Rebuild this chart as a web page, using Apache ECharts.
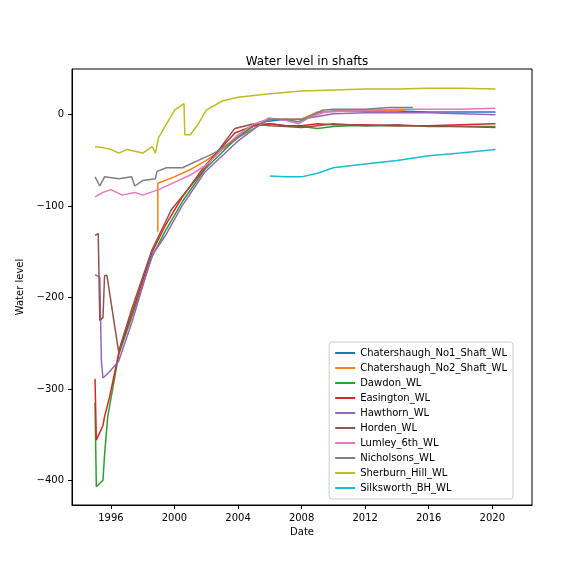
<!DOCTYPE html>
<html>
<head>
<meta charset="utf-8">
<script src="https://cdn.jsdelivr.net/npm/echarts@6/dist/echarts.min.js"></script>
<style>body{margin:0}#chart{width:576px;height:576px}</style>
</head>
<body>
<div id="chart"></div>
<script>
// [decimal year, water level]
const chatershaughNo1 = [[2005.5,-8],[2007,-5],[2008,-5],[2009,2],[2010,4],[2012,4],[2014,4],[2016,3],[2018,3],[2020.2,3]];
const chatershaughNo2 = [[1998.95,-128],[1998.95,-75],[2000,-68],[2001,-60],[2002,-50],[2003.5,-32],[2005,-12],[2006,-5],[2008,-5],[2009,3],[2012,5],[2014.5,5]];
const dawdon = [[1995,-315],[1995.08,-407],[1995.5,-400],[1995.6,-372],[1995.7,-370],[1995.8,-330],[1996.5,-262],[1997.3,-222],[1998.6,-155],[1999.4,-128],[2000.5,-95],[2001.9,-60],[2004,-24],[2005,-12],[2006,-10],[2007,-12],[2008,-13],[2009,-15],[2010,-13],[2011,-12],[2012,-12],[2014,-12],[2016,-12],[2018,-13],[2020.2,-13]];
const easington = [[1995,-289],[1995.08,-356],[1995.5,-340],[1995.6,-330],[1995.9,-310],[1996.5,-260],[1997.3,-218],[1998.6,-150],[1999.4,-122],[2000.5,-90],[2001.9,-56],[2003.8,-20],[2005,-12],[2006,-10],[2007,-12],[2008,-12],[2009,-10],[2010,-11],[2012,-11],[2014,-12],[2016,-12],[2018,-11],[2020.2,-10]];
const hawthorn = [[1995,-175],[1995.3,-178],[1995.4,-270],[1995.5,-288],[1995.86,-282],[1996.48,-270],[1997.32,-227],[1998.58,-154],[1999.4,-133],[2000.47,-100],[2001.9,-63],[2004.05,-28],[2005.9,-4],[2007,-6],[2008,-5],[2009,-2],[2010,1],[2012,2],[2014,2],[2016,2],[2018,1],[2020.2,0]];
const horden = [[1995,-132],[1995.2,-130],[1995.3,-225],[1995.5,-222],[1995.6,-176],[1995.75,-176],[1996.48,-259],[1997.32,-212],[1998.58,-148],[1999.8,-104],[2001.9,-59],[2003.8,-15],[2005,-10],[2006,-12],[2007,-13],[2008,-14],[2009,-12],[2010,-10],[2012,-12],[2014,-11],[2016,-13],[2018,-13],[2020.2,-14]];
const lumley6th = [[1995,-90],[1995.5,-85],[1996,-82],[1996.7,-88],[1997.5,-85],[1998,-88],[1999,-82],[2000,-74],[2001,-66],[2002,-55],[2003,-38],[2004,-22],[2005,-10],[2006,-4],[2007,-6],[2007.8,-10],[2008.5,-3],[2009.5,3],[2012,5],[2014,6],[2016,6],[2018,6],[2020.2,7]];
const nicholsons = [[1995,-68],[1995.3,-78],[1995.6,-68],[1996.5,-70],[1997.3,-68],[1997.5,-78],[1998,-72],[1998.8,-70],[1998.9,-62],[1999.5,-58],[2000.5,-58],[2001.5,-50],[2002.5,-42],[2004,-25],[2005.5,-10],[2006,-5],[2007,-5],[2007.8,-8],[2008.5,-2],[2009.3,5],[2010,6],[2012,6],[2013.5,8],[2015,8]];
const sherburnHill = [[1995,-35],[1995.5,-36],[1996,-38],[1996.5,-42],[1997,-38],[1997.5,-40],[1998,-42],[1998.6,-35],[1998.8,-42],[1999,-25],[1999.5,-10],[2000,5],[2000.6,12],[2000.65,-22],[2001,-22],[2001.5,-10],[2002,5],[2003,15],[2004,19],[2006,23],[2008,26],[2010,27],[2012,28],[2014,28],[2016,29],[2018,29],[2020.2,28]];
const silksworthBH = [[2006,-67],[2007,-68],[2008,-68],[2009,-64],[2010,-58],[2012,-54],[2014,-50],[2016,-45],[2018,-42],[2020.2,-38]];

const seriesNames = ['Chatershaugh_No1_Shaft_WL','Chatershaugh_No2_Shaft_WL','Dawdon_WL','Easington_WL','Hawthorn_WL','Horden_WL','Lumley_6th_WL','Nicholsons_WL','Sherburn_Hill_WL','Silksworth_BH_WL'];
const seriesData = [chatershaughNo1,chatershaughNo2,dawdon,easington,hawthorn,horden,lumley6th,nicholsons,sherburnHill,silksworthBH];
const colors = ['#1f77b4','#ff7f0e','#2ca02c','#d62728','#9467bd','#8c564b','#e377c2','#7f7f7f','#bcbd22','#17becf'];
const xTicks = [1996,2000,2004,2008,2012,2016,2020];
const yTicks = [-400,-300,-200,-100,0];

const chart = echarts.init(document.getElementById('chart'));
const font = 'DejaVu Sans';
chart.setOption({
  animation: false,
  color: colors,
  textStyle: { fontFamily: font },
  title: { text: 'Water level in shafts', left: 302, top: 51, textAlign: 'center',
    textStyle: { fontSize: 12, fontWeight: 'normal', color: '#000', fontFamily: font } },
  grid: { left: 72, right: 44, top: 69, bottom: 71, show: true, borderColor: '#000', borderWidth: 1 },
  legend: {
    orient: 'vertical', right: 63, bottom: 77, backgroundColor: '#fff',
    borderColor: '#ccc', borderWidth: 1, borderRadius: 3, padding: [6, 6, 6, 6],
    itemWidth: 20, itemHeight: 2, itemGap: 5, icon: 'rect',
    textStyle: { fontSize: 10, color: '#000', fontFamily: font },
    data: seriesNames
  },
  xAxis: {
    type: 'value', min: 1993.55, max: 2022.5, name: 'Date', nameLocation: 'middle', nameGap: 22,
    nameTextStyle: { fontSize: 10, color: '#000' },
    axisLine: { onZero: false, lineStyle: { color: '#000' } },
    axisTick: { customValues: xTicks, length: 4, lineStyle: { color: '#000' } },
    axisLabel: { customValues: xTicks, fontSize: 10, color: '#000', formatter: v => String(v) },
    splitLine: { show: false }
  },
  yAxis: {
    type: 'value', min: -427, max: 50, name: 'Water level', nameLocation: 'middle', nameGap: 38,
    nameTextStyle: { fontSize: 10, color: '#000' },
    axisLine: { show: true, onZero: false, lineStyle: { color: '#000' } },
    axisTick: { show: true, customValues: yTicks, length: 4, lineStyle: { color: '#000' } },
    axisLabel: { customValues: yTicks, fontSize: 10, color: '#000', formatter: v => String(v).replace('-', '\u2212') },
    splitLine: { show: false }
  },
  series: seriesNames.map((n, i) => ({
    name: n, type: 'line', data: seriesData[i], showSymbol: false, symbol: 'none',
    lineStyle: { width: 1.5 }
  }))
});
</script>
</body>
</html>
